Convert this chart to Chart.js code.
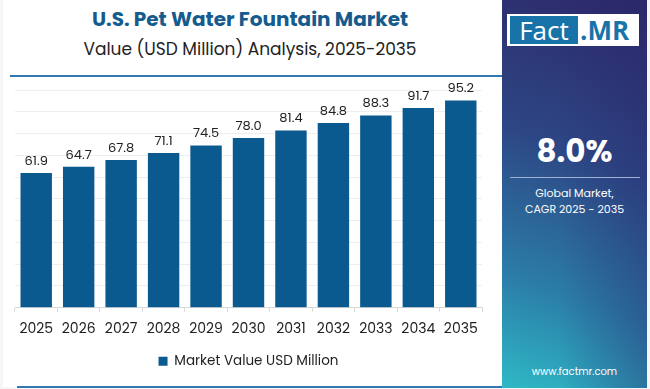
<!DOCTYPE html>
<html>
<head>
<meta charset="utf-8">
<script src="https://cdn.jsdelivr.net/npm/chart.js@4.4.1/dist/chart.umd.min.js"></script>
<style>
  html, body { margin: 0; padding: 0; }
  body { width: 650px; height: 389px; background: #f6f6f6; position: relative; overflow: hidden;
         font-family: "Poppins", Inter, "Open Sans", sans-serif; }
  #card { position: absolute; left: 3px; top: 0; width: 499px; height: 387px; background: #fff; }
  #title { position: absolute; left: 0; width: 500px; top: 4px; text-align: center;
           font-size: 20px; font-weight: 700; color: #155b8d; }
  #subtitle { position: absolute; left: 0; width: 500px; top: 36px; text-align: center;
              font-size: 17px; color: #222; }
  #rule { position: absolute; left: 10px; top: 75px; width: 492px; height: 2px; background: #2f78b1; }
  #bottomrule { position: absolute; left: 17px; top: 386px; width: 485px; height: 2px; background: #2f78b1; }
  #chartbox { position: absolute; left: 0; top: 80px; width: 500px; height: 300px; }
  #side { position: absolute; left: 502px; top: 0; width: 145px; height: 388px; color: #fff;
          background: linear-gradient(200deg, #2d2869 0%, #2d4684 40%, #2b7fa9 75%, #2fb9c6 100%); }
  #side .shade { position: absolute; inset: 0;
          background: linear-gradient(90deg, rgba(0,0,0,0) 40%, rgba(40,40,110,0.35) 100%); }
  #logo { position: absolute; left: 5px; top: 14px; width: 132px; height: 32px; background: #fff; }
  #logo .fact { position: absolute; left: 3px; top: 2px; width: 68px; height: 28px; background: #1874a8;
          color: #fff; font-size: 26px; line-height: 28px; text-align: center; font-family: "Open Sans", sans-serif; }
  #logo .mr { position: absolute; left: 73px; top: 2px; color: #1874a8; font-size: 26px; line-height: 28px;
          font-weight: 700; font-family: "Open Sans", sans-serif; }
  #cagr { position: absolute; left: 0; width: 145px; top: 128px; text-align: center; font-size: 31px; font-weight: 700; }
  #line { position: absolute; left: 8px; top: 177px; width: 130px; height: 1px; background: #9fb2d6; }
  #desc { position: absolute; left: 0; width: 145px; top: 185px; text-align: center; font-size: 11px; line-height: 16px; }
  #url { position: absolute; left: 0; width: 145px; top: 364px; text-align: center; font-size: 10px; }
</style>
</head>
<body>
<div id="card"></div>
<div id="title">U.S. Pet Water Fountain Market</div>
<div id="subtitle">Value (USD Million) Analysis, 2025-2035</div>
<div id="rule"></div>
<div id="chartbox"><canvas id="marketChart"></canvas></div>
<div id="bottomrule"></div>
<div id="side">
  <div class="shade"></div>
  <div id="logo"><div class="fact">Fact</div><div class="mr">.MR</div></div>
  <div id="cagr">8.0%</div>
  <div id="line"></div>
  <div id="desc">Global Market,<br>CAGR 2025 - 2035</div>
  <div id="url">www.factmr.com</div>
</div>
<script>
// data
const years = ["2025", "2026", "2027", "2028", "2029", "2030", "2031", "2032", "2033", "2034", "2035"];
const marketValue = [61.9, 64.7, 67.8, 71.1, 74.5, 78.0, 81.4, 84.8, 88.3, 91.7, 95.2];
const seriesName = "Market Value USD Million";

// value labels on top of bars
const barLabels = {
    id: "barLabels",
    afterDatasetsDraw(chart) {
        const ctx = chart.ctx;
        const meta = chart.getDatasetMeta(0);
        ctx.save();
        ctx.fillStyle = "#222";
        ctx.font = "13px Poppins, Inter, sans-serif";
        ctx.textAlign = "center";
        ctx.textBaseline = "bottom";
        meta.data.forEach((bar, i) => {
            ctx.fillText(marketValue[i].toFixed(1), bar.x, bar.y - 5);
        });
        ctx.restore();
    }
};

const ctx = document.getElementById("marketChart").getContext("2d");

new Chart(ctx, {
    type: "bar",
    data: {
        labels: years,
        datasets: [{
            label: seriesName,
            data: marketValue,
            backgroundColor: "#0a5a8f",
            categoryPercentage: 0.74,
            barPercentage: 1.0
        }]
    },
    options: {
        responsive: true,
        maintainAspectRatio: false,
        animation: false,
        layout: { padding: { left: 15, right: 18, top: 10, bottom: 2 } },
        plugins: {
            legend: {
                position: "bottom",
                labels: {
                    boxWidth: 9,
                    boxHeight: 9,
                    padding: 8,
                    color: "#222",
                    font: { size: 13.5, family: "Poppins, Inter, sans-serif" }
                }
            },
            tooltip: { enabled: false }
        },
        scales: {
            x: {
                grid: { drawOnChartArea: false, drawTicks: true, tickLength: 4, color: "#d8d8d8" },
                border: { color: "#d8d8d8" },
                ticks: { color: "#222", padding: 9, font: { size: 14, family: "Poppins, Inter, sans-serif" } }
            },
            y: {
                min: 0,
                max: 100,
                ticks: { display: false, stepSize: 10 },
                grid: { color: "#eeeeee", drawTicks: false },
                border: { display: false }
            }
        }
    },
    plugins: [barLabels]
});
</script>
</body>
</html>
